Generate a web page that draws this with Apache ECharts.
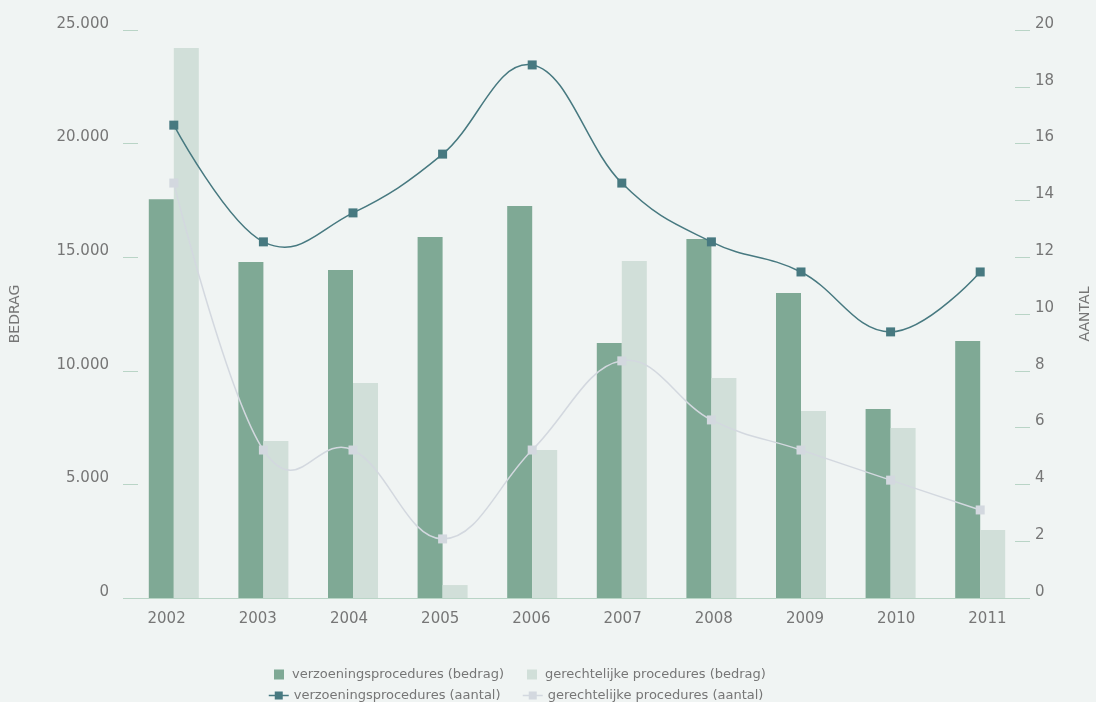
<!DOCTYPE html>
<html>
<head>
<meta charset="utf-8">
<script src="https://cdn.jsdelivr.net/npm/echarts@6/dist/echarts.min.js"></script>
<style>
  html, body { margin: 0; padding: 0; background: #f0f4f3; }
  #chart { width: 1096px; height: 702px; }
</style>
</head>
<body>
<div id="chart"></div>
<script>
// Jaren
const years = ['2002', '2003', '2004', '2005', '2006', '2007', '2008', '2009', '2010', '2011'];

// Bedragen (linker as)
const verzoeningBedrag = [17550, 14790, 14440, 15890, 17250, 11220, 15800, 13420, 8320, 11310];
const gerechtelijkBedrag = [24210, 6910, 9460, 570, 6510, 14830, 9680, 8230, 7480, 2990];

// Aantallen (rechter as)
const verzoeningAantal = [16.65, 12.54, 13.56, 15.63, 18.77, 14.61, 12.54, 11.48, 9.37, 11.48];
const gerechtelijkAantal = [14.61, 5.21, 5.21, 2.08, 5.21, 8.35, 6.27, 5.21, 4.15, 3.10];

// Asindeling
const bedragTicks = { min: 0, max: 25000, interval: 5000 };
const aantalTicks = { min: 0, max: 20, interval: 2 };

const names = {
  vb: 'verzoeningsprocedures (bedrag)',
  gb: 'gerechtelijke procedures (bedrag)',
  va: 'verzoeningsprocedures (aantal)',
  ga: 'gerechtelijke procedures (aantal)'
};

const colors = {
  green: '#7fa995',
  lightGreen: '#d1dfd9',
  teal: '#477980',
  grey: '#d3d8df',
  axis: '#b9d4c6',
  text: '#767676'
};

const font = 'DejaVu Sans';
// square legend marker inside a 20x10 icon box
const squareIcon = 'path://M0,0L0,0ZM7,0L17,0L17,10L7,10ZM20,10L20,10Z';

// Spline through the points: control points at 1/2.5 of the neighbour distance,
// tangent parallel to the line joining the neighbours.
function splineSegments(pts) {
  const sm = 1.5, den = sm + 1;
  const ctrl = pts.map((p, i) => {
    if (i === 0 || i === pts.length - 1) return null;
    const a = pts[i - 1], b = pts[i + 1];
    const lx = (sm * p[0] + a[0]) / den, rx = (sm * p[0] + b[0]) / den;
    let ly = (sm * p[1] + a[1]) / den, ry = (sm * p[1] + b[1]) / den;
    const corr = ((ry - ly) * (rx - p[0])) / (rx - lx) + p[1] - ry;
    ly += corr; ry += corr;
    return { lx, ly, rx, ry };
  });
  const segs = [];
  for (let i = 1; i < pts.length; i++) {
    const a = pts[i - 1], b = pts[i];
    const ca = ctrl[i - 1], cb = ctrl[i];
    segs.push({
      x1: a[0], y1: a[1], x2: b[0], y2: b[1],
      cpx1: ca ? ca.rx : a[0], cpy1: ca ? ca.ry : a[1],
      cpx2: cb ? cb.lx : b[0], cpy2: cb ? cb.ly : b[1]
    });
  }
  return segs;
}

function splineSeries(values, color, z) {
  return {
    type: 'custom',
    yAxisIndex: 1,
    z: z,
    silent: true,
    data: values.map((v, i) => [i, v]),
    renderItem: (params, api) => {
      if (params.dataIndex !== 0) return null;
      const pts = values.map((v, i) => api.coord([i, v]));
      return {
        type: 'group',
        children: splineSegments(pts).map(s => ({
          type: 'bezierCurve',
          shape: s,
          style: { stroke: color, lineWidth: 1.5, fill: null }
        }))
      };
    }
  };
}

const chart = echarts.init(document.getElementById('chart'), null, { renderer: 'canvas' });

function legendItem(item, left, top) {
  return {
    orient: 'horizontal',
    left: left,
    top: top,
    itemWidth: 20,
    itemHeight: 10,
    padding: 0,
    selectedMode: false,
    textStyle: { fontFamily: font, fontSize: 13, color: colors.text },
    data: [item]
  };
}

chart.setOption({
  backgroundColor: '#f0f4f3',
  animation: false,
  grid: [
    // plot area
    { left: 129, right: 71, top: 30, bottom: 104, containLabel: false, outerBoundsMode: 'none' },
    // year labels band
    { left: 121, right: 63, top: 30, bottom: 104, containLabel: false, outerBoundsMode: 'none' }
  ],
  legend: [
    legendItem({ name: names.vb, icon: squareIcon }, 267, 668),
    legendItem({ name: names.gb, icon: squareIcon }, 520, 668),
    legendItem({ name: names.va, lineStyle: { color: colors.teal, width: 1.5, opacity: 1 } }, 268, 689),
    legendItem({ name: names.ga, lineStyle: { color: colors.grey, width: 1.5, opacity: 1 } }, 522, 689)
  ],
  xAxis: [
    {
      type: 'category',
      gridIndex: 0,
      data: years,
      boundaryGap: true,
      axisLine: { lineStyle: { color: colors.axis, width: 1 } },
      axisTick: { show: false },
      axisLabel: { show: false }
    },
    {
      type: 'category',
      gridIndex: 1,
      data: years,
      boundaryGap: true,
      axisLine: { show: false },
      axisTick: { show: false },
      axisLabel: { fontFamily: font, fontSize: 15, color: colors.text, margin: 14 }
    }
  ],
  yAxis: [
    {
      type: 'value',
      gridIndex: 0,
      min: bedragTicks.min,
      max: bedragTicks.max,
      interval: bedragTicks.interval,
      position: 'left',
      offset: 6,
      name: 'BEDRAG',
      nameLocation: 'middle',
      nameGap: 101,
      nameTextStyle: { fontFamily: font, fontSize: 14, color: colors.text },
      axisLine: { show: false },
      axisTick: { show: true, inside: true, length: 15, lineStyle: { color: colors.axis, width: 1 } },
      splitLine: { show: false },
      axisLabel: {
        fontFamily: font, fontSize: 15, color: colors.text, margin: 14,
        verticalAlign: 'bottom', lineHeight: 12,
        formatter: v => v.toLocaleString('de-DE')
      }
    },
    {
      type: 'value',
      gridIndex: 0,
      min: aantalTicks.min,
      max: aantalTicks.max,
      interval: aantalTicks.interval,
      position: 'right',
      offset: 5,
      name: 'AANTAL',
      nameLocation: 'middle',
      nameGap: 48,
      nameTextStyle: { fontFamily: font, fontSize: 14, color: colors.text },
      axisLine: { show: false },
      axisTick: { show: true, inside: true, length: 15, lineStyle: { color: colors.axis, width: 1 } },
      splitLine: { show: false },
      axisLabel: {
        fontFamily: font, fontSize: 15, color: colors.text, margin: 5,
        verticalAlign: 'bottom', lineHeight: 12
      }
    },
    {
      type: 'value',
      gridIndex: 1,
      show: false
    }
  ],
  series: [
    {
      name: names.vb,
      type: 'bar',
      yAxisIndex: 0,
      data: verzoeningBedrag,
      barWidth: 25,
      barGap: '0%',
      itemStyle: { color: colors.green },
      z: 1
    },
    {
      name: names.gb,
      type: 'bar',
      yAxisIndex: 0,
      data: gerechtelijkBedrag,
      barWidth: 25,
      barGap: '0%',
      itemStyle: { color: colors.lightGreen },
      z: 1
    },
    splineSeries(gerechtelijkAantal, colors.grey, 2),
    splineSeries(verzoeningAantal, colors.teal, 3),
    {
      name: names.va,
      type: 'line',
      yAxisIndex: 1,
      data: verzoeningAantal,
      symbol: 'rect',
      symbolSize: 9,
      lineStyle: { color: colors.teal, width: 1.5, opacity: 0 },
      itemStyle: { color: colors.teal },
      z: 5
    },
    {
      name: names.ga,
      type: 'line',
      yAxisIndex: 1,
      data: gerechtelijkAantal,
      symbol: 'rect',
      symbolSize: 9,
      lineStyle: { color: colors.grey, width: 1.5, opacity: 0 },
      itemStyle: { color: colors.grey },
      z: 4
    }
  ]
});
</script>
</body>
</html>
